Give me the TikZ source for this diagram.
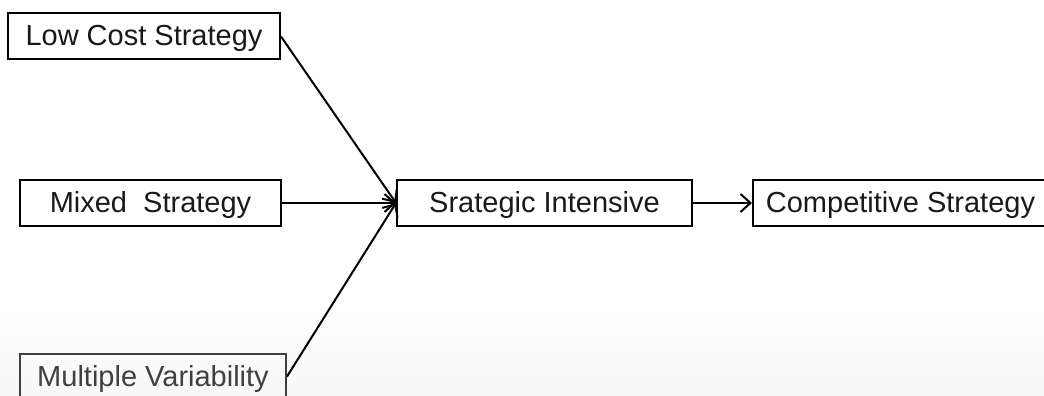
\documentclass[tikz,border=0pt]{standalone}
\usepackage{fontspec}
\setmainfont{Liberation Sans}
\usetikzlibrary{arrows.meta}
\begin{document}
\begin{tikzpicture}[x=1pt,y=-1pt,
  box/.style={draw, line width=2pt, minimum height=46pt, inner sep=0pt,
    text height=21pt, text depth=2pt,
    font=\fontsize{29}{34}\selectfont, text=black!90},
  link/.style={line width=2pt, -{Straight Barb[length=10pt,width=18pt,line width=2pt]}}]
\useasboundingbox (0,0) rectangle (1044,396);
% soft shading along the lower edge
\shade[top color=white, bottom color=black!3] (0,300) rectangle (1044,396);
\node[box, minimum width=272pt] (low) at (144,36.5) {Low Cost Strategy};
\node[box, minimum width=261pt] (mix) at (150.5,203) {Mixed\ \ Strategy};
\node[box, minimum width=266pt, draw=black!75, text=black!75] (mv) at (153,376.5) {Multiple Variability};
\node[box, minimum width=295pt] (si) at (544.5,203) {Srategic Intensive};
\node[box, minimum width=295pt] (cs) at (900.5,203) {Competitive Strategy};
\draw[link] (low.east) -- (si.west);
\draw[link] (mix.east) -- (si.west);
\draw[link] (mv.east) -- (si.west);
\draw[link] (si.east) -- (cs.west);
\end{tikzpicture}
\end{document}
